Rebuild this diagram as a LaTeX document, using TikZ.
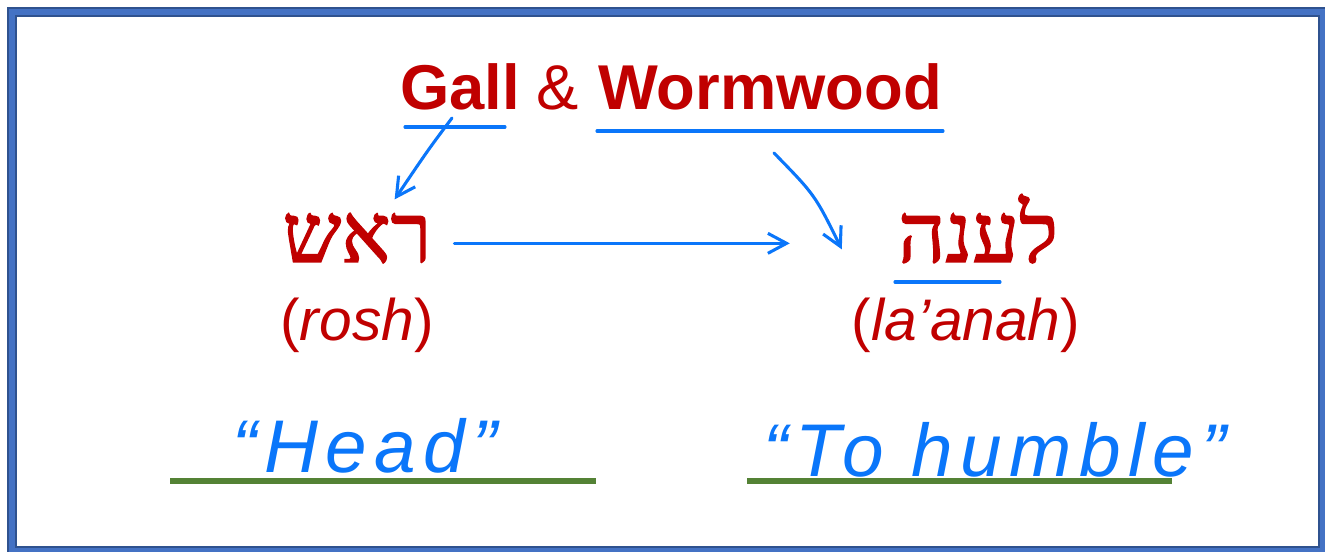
\documentclass[tikz,border=0pt]{standalone}
\usepackage{fontspec}
\setmainfont{Liberation Sans}
\newfontfamily\hebfont[Script=Hebrew,FakeBold=1.6]{Liberation Serif}
\newfontfamily\inkfont[LetterSpace=10]{Liberation Sans}
\TeXXeTstate=1
\usetikzlibrary{arrows.meta,calc}
\definecolor{wordred}{RGB}{192,0,0}
\definecolor{inkblue}{RGB}{10,118,250}
\definecolor{linegreen}{RGB}{84,130,53}
\definecolor{framelight}{RGB}{68,114,196}
\definecolor{framedark}{RGB}{47,82,143}
\tikzset{
  ink/.style={draw=inkblue,line width=2.3pt,line cap=round,line join=round},
  inkarrow/.style={ink,-{Straight Barb[length=14pt,width=15pt,line width=2.3pt]}},
  titleword/.style={anchor=base,font=\fontsize{47.5}{50}\selectfont\bfseries},
  hebword/.style={anchor=base,text height=43pt,text depth=15pt,font=\hebfont\fontsize{62}{64}\selectfont},
  translit/.style={anchor=base,font=\fontsize{44}{46}\selectfont},
  inktext/.style={anchor=base,text=inkblue,font=\inkfont\itshape\fontsize{56}{58}\selectfont},
  greenline/.style={draw=linegreen,line width=4pt}
}
\begin{document}
\begin{tikzpicture}[x=0.75pt,y=-0.75pt,every node/.style={inner sep=0pt,text=wordred}]
\clip (0,0) rectangle (1325,552);
\fill[white] (0,0) rectangle (1325,552);
\draw[framedark,line width=7.5pt] (12,12) rectangle (1323,551);
\draw[framelight,line width=4.5pt] (12,12) rectangle (1323,551);

% title
\node[titleword,anchor=base west] (gall) at (400,110) {Gall};
\node[titleword,font=\fontsize{47.5}{50}\selectfont] (amp) at (558,110) {\&};
\node[titleword,anchor=base west] (worm) at (598,110) {Wormwood};

% hebrew words and their readings
\node[hebword] (rosh) at (357,262) {\beginR ראש\endR};
\node[hebword] (laanah) at (978,262) {\beginR לענה\endR};
\node[translit] (roshread) at (357,340) {(\textit{rosh})};
\node[translit] (laanahread) at (966,340) {(\textit{la’anah})};

% meanings
\node[inktext] (head) at (365,472) {“Head”};
\node[inktext] (humble) at (995,476) {“To humble”};
\draw[greenline] (170,481) -- (596,481);
\draw[greenline] (747,481) -- (1172,481);

% pen marks
\coordinate (gallmark) at (452,118);
\coordinate (wormmark) at (774,153);
\draw[ink] (405,127) -- (505,127);
\draw[ink] (597,131) -- (943,131);
\draw[ink] (895,282) -- (1000,282);
\draw[inkarrow] (gallmark) .. controls (428,150) .. ($(rosh.north east)+(-37,-5)$);
\draw[inkarrow] (wormmark) .. controls (815,195) .. ($(laanah.west)+(-56,6)$);
\draw[inkarrow,shorten <=17pt,shorten >=81pt] (rosh.east) -- (laanah.west);
\end{tikzpicture}
\end{document}
